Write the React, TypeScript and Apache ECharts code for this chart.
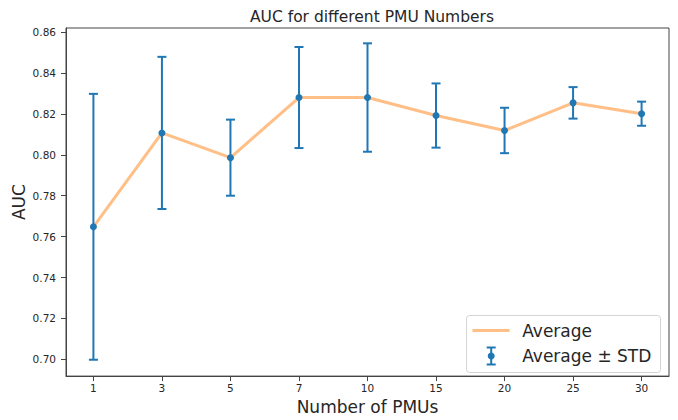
import React, { useEffect, useRef } from "react";
import * as echarts from "echarts";

const categories = ["1", "3", "5", "7", "10", "15", "20", "25", "30"];
const average = [0.7648, 0.8107, 0.7986, 0.828, 0.828, 0.8192, 0.8119, 0.8254, 0.8201];
const stdDev = [0.065, 0.0372, 0.0186, 0.0247, 0.0265, 0.0157, 0.0111, 0.0077, 0.0059];
const yTicks = [0.7, 0.72, 0.74, 0.76, 0.78, 0.8, 0.82, 0.84, 0.86];

const BLUE = "#1f77b4";
const ORANGE = "rgba(255,127,14,0.5)";
const FONT = "DejaVu Sans";
const TEXT = "#262626";
const SPINE = "#444";

export default function App() {
  const ref = useRef<HTMLDivElement>(null);
  useEffect(() => {
    if (!ref.current) return;
    const chart = echarts.init(ref.current, undefined, { renderer: "svg" });
    const idx = categories.map((_, i) => i);
    const lineData = average.map((v, i) => [i, v]);
    const errData = average.map((v, i) => [i, v, v - stdDev[i], v + stdDev[i]]);

    const option: any = {
      animation: false,
      backgroundColor: "#fff",
      title: {
        text: "AUC for different PMU Numbers",
        left: 367,
        top: 4,
        textAlign: "center",
        textStyle: { fontFamily: FONT, fontSize: 15.5, fontWeight: "normal", color: TEXT },
      },
      grid: {
        left: 66,
        right: 9,
        top: 28,
        bottom: 39,
        show: true,
        borderColor: SPINE,
        borderWidth: 1,
        backgroundColor: "transparent",
      },
      xAxis: {
        type: "value",
        min: -0.4,
        max: 8.4,
        name: "Number of PMUs",
        nameLocation: "middle",
        nameGap: 18,
        nameTextStyle: { fontFamily: FONT, fontSize: 17, color: TEXT },
        splitLine: { show: false },
        axisLine: { show: true, onZero: false, lineStyle: { color: SPINE, width: 1 } },
        axisTick: { show: true, customValues: idx, length: 5, lineStyle: { color: SPINE } },
        axisLabel: {
          customValues: idx,
          margin: 6,
          fontFamily: FONT,
          fontSize: 10.5,
          color: TEXT,
          formatter: (v: number) => categories[Math.round(v)] ?? "",
        },
      },
      yAxis: {
        type: "value",
        min: 0.6918,
        max: 0.862,
        name: "AUC",
        nameLocation: "middle",
        nameGap: 39,
        nameMoveOverlap: false,
        nameTextStyle: { fontFamily: FONT, fontSize: 17, color: TEXT },
        splitLine: { show: false },
        axisLine: { show: true, onZero: false, lineStyle: { color: SPINE, width: 1 } },
        axisTick: { show: true, customValues: yTicks, length: 5, lineStyle: { color: SPINE } },
        axisLabel: {
          customValues: yTicks,
          margin: 10,
          fontFamily: FONT,
          fontSize: 10.5,
          color: TEXT,
          formatter: (v: number) => v.toFixed(2),
        },
      },
      series: [
        {
          name: "Average",
          type: "line",
          data: lineData,
          showSymbol: false,
          symbol: "none",
          lineStyle: { color: ORANGE, width: 3 },
          itemStyle: { color: ORANGE },
          z: 2,
        },
        {
          name: "Average ± STD",
          type: "custom",
          data: errData,
          encode: { x: 0, y: [2, 3] },
          z: 3,
          renderItem: (params: any, api: any) => {
            const x = api.value(0);
            const lo = api.coord([x, api.value(2)]);
            const hi = api.coord([x, api.value(3)]);
            const hw = 4.5;
            const style = { stroke: BLUE, lineWidth: 2, fill: "none" };
            return {
              type: "group",
              children: [
                { type: "line", shape: { x1: lo[0], y1: lo[1], x2: hi[0], y2: hi[1] }, style },
                { type: "line", shape: { x1: hi[0] - hw, y1: hi[1], x2: hi[0] + hw, y2: hi[1] }, style },
                { type: "line", shape: { x1: lo[0] - hw, y1: lo[1], x2: lo[0] + hw, y2: lo[1] }, style },
              ],
            };
          },
        },
        {
          name: "Average markers",
          type: "scatter",
          data: lineData,
          symbol: "circle",
          symbolSize: 7,
          itemStyle: { color: BLUE, opacity: 1 },
          z: 4,
        },
      ],
      graphic: [
        {
          type: "group",
          left: 466,
          top: 315,
          z: 100,
          children: [
            {
              type: "rect",
              shape: { x: 0, y: 0, width: 194, height: 57, r: 3 },
              style: { fill: "rgba(255,255,255,0.85)", stroke: "#d4d4d4", lineWidth: 1 },
            },
            {
              type: "line",
              shape: { x1: 6, y1: 15, x2: 43, y2: 15 },
              style: { stroke: ORANGE, lineWidth: 3 },
            },
            {
              type: "line",
              shape: { x1: 24.7, y1: 32, x2: 24.7, y2: 49 },
              style: { stroke: BLUE, lineWidth: 2 },
            },
            {
              type: "line",
              shape: { x1: 20.2, y1: 32, x2: 29.2, y2: 32 },
              style: { stroke: BLUE, lineWidth: 2 },
            },
            {
              type: "line",
              shape: { x1: 20.2, y1: 49, x2: 29.2, y2: 49 },
              style: { stroke: BLUE, lineWidth: 2 },
            },
            {
              type: "circle",
              shape: { cx: 24.7, cy: 40.5, r: 3.5 },
              style: { fill: BLUE },
            },
            {
              type: "text",
              x: 55.7,
              y: 15,
              style: {
                text: "Average",
                fontFamily: FONT,
                fontSize: 17,
                fill: TEXT,
                verticalAlign: "middle",
              },
            },
            {
              type: "text",
              x: 55.7,
              y: 40.5,
              style: {
                text: "Average ± STD",
                fontFamily: FONT,
                fontSize: 17,
                fill: TEXT,
                verticalAlign: "middle",
              },
            },
          ],
        },
      ],
    };
    chart.setOption(option);
    return () => chart.dispose();
  }, []);
  return (
    <div
      ref={ref}
      style={{ position: "fixed", left: 0, top: 0, width: 678, height: 420, background: "#fff" }}
    />
  );
}
